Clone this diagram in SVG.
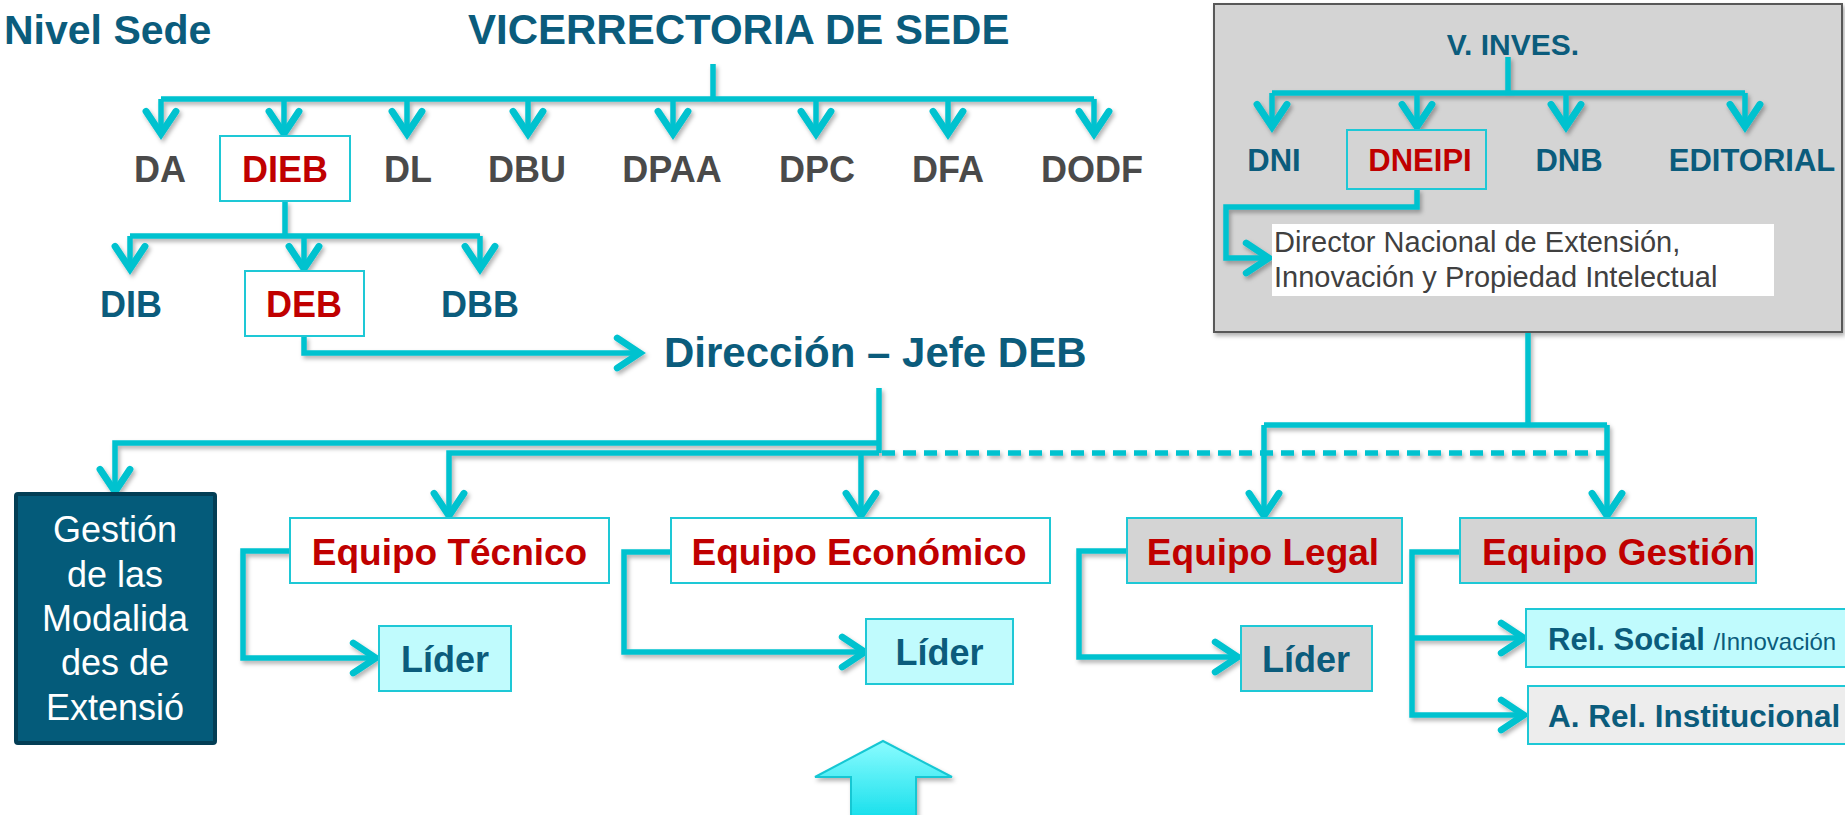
<svg xmlns="http://www.w3.org/2000/svg" width="1845" height="815" viewBox="0 0 1845 815">
<defs>
<style>
.ln{fill:none;stroke:#00c2cf;stroke-width:5.5;stroke-linejoin:miter}
.ar{marker-end:url(#ah)}
.ds{stroke-dasharray:13 8}
.b{font-family:"Liberation Sans",Arial,sans-serif;font-weight:bold}
.r{font-family:"Liberation Sans",Arial,sans-serif}
.teal{fill:#0b5c7c}
.gry{fill:#4a4a4a}
.red{fill:#c00000}
.bx{stroke:#1ec8d6;stroke-width:2}
.wh{fill:#ffffff}
.cy{fill:#c0fbfd}
.gr{fill:#d4d4d4}
</style>
<marker id="ah" markerUnits="userSpaceOnUse" markerWidth="40" markerHeight="40" viewBox="-25 -16 30 32" refX="0" refY="0" orient="auto" overflow="visible">
<path d="M-19,-12 L-1,0 L-19,12" fill="none" stroke="#00c2cf" stroke-width="5.5" stroke-linecap="round" stroke-linejoin="miter"/>
</marker>
<filter id="sh" x="-5%" y="-5%" width="110%" height="115%">
<feDropShadow dx="2" dy="3" stdDeviation="2" flood-color="#000" flood-opacity="0.3"/>
</filter>
<linearGradient id="ga" x1="0" y1="0" x2="0" y2="1">
<stop offset="0" stop-color="#8afcff"/>
<stop offset="1" stop-color="#1be0ec"/>
</linearGradient>
</defs>
<rect width="1845" height="815" fill="#ffffff"/>

<g id="titles">
<text class="b teal" x="4" y="44" font-size="41">Nivel Sede</text>
<text class="b teal" x="468" y="44" font-size="42">VICERRECTORIA DE SEDE</text>
</g>

<g id="inves-panel">
<rect x="1214" y="4" width="628" height="328" fill="#d4d4d4" stroke="#595959" stroke-width="2" filter="url(#sh)"/>
</g>

<g id="connectors" filter="url(#sh)">
<path class="ln" d="M713,64 V99 M161,99 H1094"/>
<path class="ln ar" d="M161,99 V135"/>
<path class="ln ar" d="M284,99 V135"/>
<path class="ln ar" d="M407,99 V135"/>
<path class="ln ar" d="M528,99 V135"/>
<path class="ln ar" d="M673,99 V135"/>
<path class="ln ar" d="M816,99 V135"/>
<path class="ln ar" d="M948,99 V135"/>
<path class="ln ar" d="M1094,99 V135"/>
<path class="ln" d="M285,201 V236 M130,236 H480"/>
<path class="ln ar" d="M130,236 V270"/>
<path class="ln ar" d="M304,236 V270"/>
<path class="ln ar" d="M480,236 V270"/>
<path class="ln ar" d="M304,336 V353 H641"/>
<path class="ln" d="M879,388 V453"/>
<path class="ln ar" d="M879,443 H115 V493"/>
<path class="ln ar" d="M879,453 H449 V517"/>
<path class="ln ar" d="M861,453 V517"/>
<path class="ln ds" d="M882,453 H1607"/>
<path class="ln" d="M1508,57 V93 M1272,93 H1745"/>
<path class="ln ar" d="M1272,93 V128"/>
<path class="ln ar" d="M1417,93 V128"/>
<path class="ln ar" d="M1566,93 V128"/>
<path class="ln ar" d="M1745,93 V128"/>
<path class="ln ar" d="M1417,189 V207 H1226 V258 H1270"/>
<path class="ln" d="M1528,333 V425 M1264,425 H1607"/>
<path class="ln ar" d="M1264,425 V517"/>
<path class="ln ar" d="M1607,425 V517"/>
<path class="ln ar" d="M290,551 H243 V658 H377"/>
<path class="ln ar" d="M671,552 H624 V652 H866"/>
<path class="ln ar" d="M1127,551 H1079 V657 H1239"/>
<path class="ln ar" d="M1460,552 H1412 V715 H1525"/>
<path class="ln ar" d="M1412,638 H1525"/>
</g>

<g id="level1" class="b" font-size="36" text-anchor="middle">
<text class="gry" x="160" y="182">DA</text>
<rect class="bx wh" x="220" y="136" width="130" height="65"/>
<text class="red" x="285" y="182">DIEB</text>
<text class="gry" x="408" y="182">DL</text>
<text class="gry" x="527" y="182">DBU</text>
<text class="gry" x="672" y="182">DPAA</text>
<text class="gry" x="817" y="182">DPC</text>
<text class="gry" x="948" y="182">DFA</text>
<text class="gry" x="1092" y="182">DODF</text>
</g>

<g id="level2" class="b" font-size="36" text-anchor="middle">
<text class="teal" x="131" y="317">DIB</text>
<rect class="bx wh" x="245" y="271" width="119" height="65"/>
<text class="red" x="304" y="317">DEB</text>
<text class="teal" x="480" y="317">DBB</text>
</g>

<g id="direccion">
<text class="b teal" x="664" y="367" font-size="42">Dirección – Jefe DEB</text>
</g>

<g id="inves-nodes" class="b" font-size="31" text-anchor="middle">
<text class="teal" x="1513" y="55" font-size="30">V. INVES.</text>
<text class="teal" x="1274" y="171">DNI</text>
<rect class="bx" fill="#d4d4d4" x="1347" y="130" width="139" height="59"/>
<text class="red" x="1420" y="171">DNEIPI</text>
<text class="teal" x="1569" y="171">DNB</text>
<text class="teal" x="1752" y="171">EDITORIAL</text>
</g>

<g id="director">
<rect x="1272" y="224" width="502" height="72" fill="#ffffff"/>
<text class="r" x="1274" y="252" font-size="29" fill="#404040">Director Nacional de Extensión,</text>
<text class="r" x="1274" y="287" font-size="29" fill="#404040">Innovación y Propiedad Intelectual</text>
</g>

<g id="gestion-modalidades">
<rect x="16" y="494" width="199" height="249" fill="#045b7a" stroke="#033e55" stroke-width="4" rx="2"/>
<g class="r" font-size="36" fill="#ffffff" text-anchor="middle">
<text x="115" y="542">Gestión</text>
<text x="115" y="587">de las</text>
<text x="115" y="631">Modalida</text>
<text x="115" y="675">des de</text>
<text x="115" y="720">Extensió</text>
</g>
</g>

<g id="equipo-tecnico">
<rect class="bx wh" x="290" y="518" width="319" height="65"/>
<text class="b red" x="449.5" y="565" font-size="37" text-anchor="middle">Equipo Técnico</text>
</g>
<g id="equipo-economico">
<rect class="bx wh" x="671" y="518" width="379" height="65"/>
<text class="b red" x="859" y="565" font-size="37" text-anchor="middle">Equipo Económico</text>
</g>
<g id="equipo-legal">
<rect class="bx gr" x="1127" y="518" width="275" height="65"/>
<text class="b red" x="1263" y="565" font-size="37" text-anchor="middle">Equipo Legal</text>
</g>
<g id="equipo-gestion">
<rect class="bx gr" x="1460" y="518" width="296" height="65"/>
<text class="b red" x="1482" y="565" font-size="37">Equipo Gestión</text>
</g>

<g id="lider-tecnico">
<rect class="bx cy" x="379" y="626" width="132" height="65"/>
<text class="b teal" x="445" y="672" font-size="36" text-anchor="middle">Líder</text>
</g>
<g id="lider-economico">
<rect class="bx cy" x="866" y="619" width="147" height="65"/>
<text class="b teal" x="939.5" y="665" font-size="36" text-anchor="middle">Líder</text>
</g>
<g id="lider-legal">
<rect class="bx gr" x="1241" y="626" width="131" height="65"/>
<text class="b teal" x="1306" y="672" font-size="36" text-anchor="middle">Líder</text>
</g>

<g id="rel-social">
<rect class="bx cy" x="1526" y="609" width="330" height="58"/>
<text class="b teal" x="1548" y="650" font-size="31">Rel. Social <tspan class="r" font-weight="normal" font-size="24">/Innovación</tspan></text>
</g>
<g id="rel-institucional">
<rect class="bx" fill="#ededed" x="1528" y="686" width="330" height="58"/>
<text class="b teal" x="1548" y="727" font-size="31.5">A. Rel. Institucional</text>
</g>

<g id="big-arrow">
<polygon points="883,741 952,777 916,777 916,816 851,816 851,777 815,777" fill="url(#ga)" stroke="#15c7d3" stroke-width="2" filter="url(#sh)"/>
</g>
</svg>
